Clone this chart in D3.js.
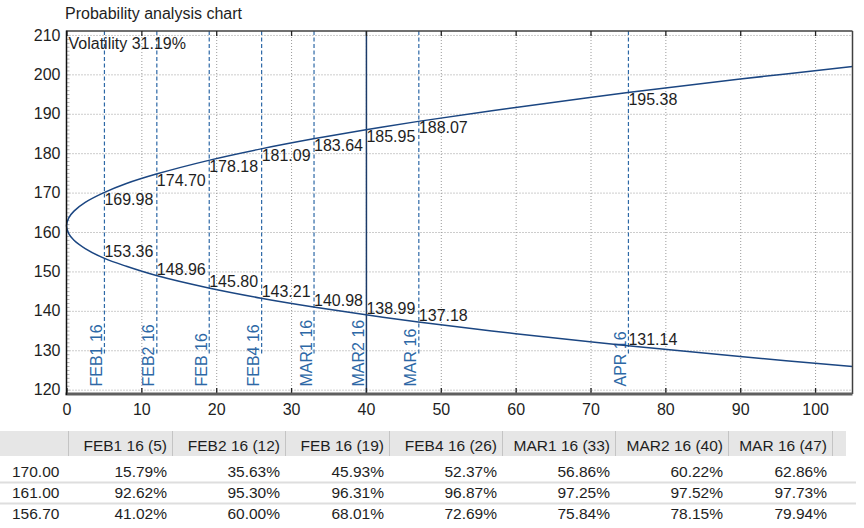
<!DOCTYPE html>
<html>
<head>
<meta charset="utf-8">
<script src="https://cdn.jsdelivr.net/npm/d3@7"></script>
<style>
  html, body { margin: 0; padding: 0; background: #fff; }
  svg { display: block; font-family: "Liberation Sans", Arial, Helvetica, sans-serif; }
</style>
</head>
<body>
<svg id="chart" width="864" height="528"></svg>
<script>
// Expiry series: name, days to expiry and price band at that expiry
const expiries   = ["FEB1 16", "FEB2 16", "FEB 16", "FEB4 16", "MAR1 16", "MAR2 16", "MAR 16", "APR 16"];
const expiryDays = [5, 12, 19, 26, 33, 40, 47, 75];
const upperBand  = [169.98, 174.70, 178.18, 181.09, 183.64, 185.95, 188.07, 195.38];
const lowerBand  = [153.36, 148.96, 145.80, 143.21, 140.98, 138.99, 137.18, 131.14];
const selectedExpiry = "MAR2 16";

// Probability cone sampled along the day axis
const coneDays  = [0, 0.3, 1, 2.5, 5, 8, 12, 19, 26, 33, 40, 47, 60, 75, 90, 105];
const coneUpper = [161.6, 163.6, 165.3, 167.5, 169.98, 172.3, 174.70, 178.18, 181.09, 183.64, 185.95, 188.07, 191.6, 195.38, 198.8, 202.0];
const coneLower = [161.6, 159.6, 157.9, 155.8, 153.36, 151.3, 148.96, 145.80, 143.21, 140.98, 138.99, 137.18, 134.2, 131.14, 128.4, 125.9];

const title = "Probability analysis chart";
const volatilityText = "Volatility 31.19%";

// Axis ticks
const xTicks = [0, 10, 20, 30, 40, 50, 60, 70, 80, 90, 100];
const yTicks = [120, 130, 140, 150, 160, 170, 180, 190, 200, 210];

// Probability table
const tableExpiries = ["FEB1 16", "FEB2 16", "FEB 16", "FEB4 16", "MAR1 16", "MAR2 16", "MAR 16"];
const tableDays     = [5, 12, 19, 26, 33, 40, 47];
const priceLevels   = ["170.00", "161.00", "156.70"];
const probRow170    = ["15.79%", "35.63%", "45.93%", "52.37%", "56.86%", "60.22%", "62.86%"];
const probRow161    = ["92.62%", "95.30%", "96.31%", "96.87%", "97.25%", "97.52%", "97.73%"];
const probRow1567   = ["41.02%", "60.00%", "68.01%", "72.69%", "75.84%", "78.15%", "79.94%"];

const svg = d3.select("#chart");
const frame = { left: 66.5, right: 852.5, top: 31, bottom: 394 };

const x = d3.scaleLinear().domain([0, 105]).range([frame.left, frame.right]);
const y = d3.scaleLinear().domain([118.9, 211]).range([frame.bottom, frame.top]);

const curveColor = "#1b4682";
const markColor = "#2d68a6";
const textColor = "#1e1e1e";

// Title
svg.append("text")
  .attr("x", 65).attr("y", 18.5)
  .attr("font-size", 16).attr("fill", textColor)
  .text(title);

const plot = svg.append("g");

// Dotted grid
plot.append("g").selectAll("line").data(yTicks).join("line")
  .attr("x1", frame.left).attr("x2", frame.right)
  .attr("y1", d => y(d) + 0.5).attr("y2", d => y(d) + 0.5)
  .attr("stroke", "#9a9a9a").attr("stroke-width", 1)
  .attr("stroke-dasharray", "1,2");
plot.append("g").selectAll("line").data(xTicks.filter(d => d > 0)).join("line")
  .attr("x1", d => x(d) + 0.5).attr("x2", d => x(d) + 0.5)
  .attr("y1", frame.top).attr("y2", frame.bottom)
  .attr("stroke", "#9a9a9a").attr("stroke-width", 1)
  .attr("stroke-dasharray", "1,2");

// Minor ticks along the price axis
plot.append("g").selectAll("line").data(d3.range(119, 211, 1)).join("line")
  .attr("x1", frame.left).attr("x2", frame.left + 3)
  .attr("y1", d => y(d) + 0.5).attr("y2", d => y(d) + 0.5)
  .attr("stroke", "#b0b0b0").attr("stroke-width", 1);

// Expiry markers: dashed lines, solid line for the selected expiry
const markers = expiries.map((name, i) => ({ name, day: expiryDays[i], up: upperBand[i], low: lowerBand[i] }));

plot.append("g").selectAll("line").data(markers.filter(d => d.name !== selectedExpiry)).join("line")
  .attr("x1", d => x(d.day) + 0.5).attr("x2", d => x(d.day) + 0.5)
  .attr("y1", frame.top).attr("y2", y(128.6))
  .attr("stroke", markColor).attr("stroke-width", 1.2)
  .attr("stroke-dasharray", "4,2.5");

plot.append("g").selectAll("line").data(markers.filter(d => d.name === selectedExpiry)).join("line")
  .attr("x1", d => x(d.day) + 0.5).attr("x2", d => x(d.day) + 0.5)
  .attr("y1", frame.top).attr("y2", frame.bottom)
  .attr("stroke", "#1b3a68").attr("stroke-width", 1.5);

// Rotated expiry names
plot.append("g").selectAll("text").data(markers).join("text")
  .attr("transform", d => `translate(${x(d.day) - 2},${386.5}) rotate(-90)`)
  .attr("font-size", 16).attr("fill", markColor)
  .text(d => d.name);

// Probability cone
const conePath = coneDays.slice().reverse().map((d, i) => [d, coneUpper[coneDays.length - 1 - i]])
  .concat(coneDays.slice(1).map((d, i) => [d, coneLower[i + 1]]));

plot.append("path")
  .datum(conePath)
  .attr("d", d3.line().x(d => x(d[0])).y(d => y(d[1])).curve(d3.curveCatmullRom.alpha(0.5)))
  .attr("fill", "none").attr("stroke", curveColor).attr("stroke-width", 1.5);

// Band values at each expiry
plot.append("g").selectAll("text").data(markers).join("text")
  .attr("x", d => x(d.day) + 0.5).attr("y", d => y(d.up) + 12)
  .attr("font-size", 16).attr("fill", textColor)
  .text(d => d.up.toFixed(2));
plot.append("g").selectAll("text").data(markers).join("text")
  .attr("x", d => x(d.day) + 0.5).attr("y", d => y(d.low) - 1)
  .attr("font-size", 16).attr("fill", textColor)
  .text(d => d.low.toFixed(2));

// Volatility note
plot.append("text")
  .attr("x", 68.5).attr("y", 48.5)
  .attr("font-size", 16).attr("fill", textColor)
  .text(volatilityText);

// Frame
plot.append("line").attr("x1", frame.left).attr("x2", frame.right).attr("y1", frame.top).attr("y2", frame.top)
  .attr("stroke", "#404040").attr("stroke-width", 1.5);
plot.append("line").attr("x1", frame.right).attr("x2", frame.right).attr("y1", frame.top).attr("y2", frame.bottom)
  .attr("stroke", "#404040").attr("stroke-width", 1.5);

// Tick marks at top and bottom
plot.append("g").selectAll("line").data(xTicks).join("line")
  .attr("x1", d => x(d) + 0.5).attr("x2", d => x(d) + 0.5)
  .attr("y1", frame.top).attr("y2", frame.top + 5)
  .attr("stroke", "#222").attr("stroke-width", 1.3);
plot.append("g").selectAll("line").data(xTicks).join("line")
  .attr("x1", d => x(d) + 0.5).attr("x2", d => x(d) + 0.5)
  .attr("y1", frame.bottom).attr("y2", frame.bottom - 6)
  .attr("stroke", "#222").attr("stroke-width", 1.3);

// Axes lines
plot.append("line").attr("x1", frame.left - 1).attr("x2", frame.right).attr("y1", frame.bottom).attr("y2", frame.bottom)
  .attr("stroke", "#5f5f5f").attr("stroke-width", 3);
plot.append("line").attr("x1", frame.left).attr("x2", frame.left).attr("y1", frame.top - 0.5).attr("y2", frame.bottom + 1)
  .attr("stroke", "#111").attr("stroke-width", 1.5);

// Tick labels
const xAxis = d3.axisBottom(x).tickValues(xTicks).tickSize(0).tickPadding(10).tickFormat(d3.format("d"));
svg.append("g").attr("transform", `translate(0,${frame.bottom})`).call(xAxis)
  .call(g => g.select(".domain").remove())
  .call(g => g.selectAll("text").attr("font-size", 16).attr("fill", textColor)
    .attr("font-family", "Liberation Sans, Arial, sans-serif"));

const yAxis = d3.axisLeft(y).tickValues(yTicks).tickSize(0).tickPadding(6).tickFormat(d3.format("d"));
svg.append("g").attr("transform", `translate(${frame.left},0)`).call(yAxis)
  .call(g => g.select(".domain").remove())
  .call(g => g.selectAll("text").attr("font-size", 16).attr("fill", textColor)
    .attr("font-family", "Liberation Sans, Arial, sans-serif"));

// Probability table
const colEdges = [0, 68, 172, 285, 389, 502, 615, 728, 832];
const headerTop = 431, headerBottom = 456;
const rowBaselines = [477, 497.5, 519];
const rowLines = [482.5, 503.5];
const rows = [probRow170, probRow161, probRow1567];

const table = svg.append("g").attr("font-size", 15.5).attr("fill", textColor);

table.append("rect")
  .attr("x", 0).attr("y", headerTop).attr("width", 846).attr("height", headerBottom - headerTop)
  .attr("fill", "#e6e6e6");
table.append("g").selectAll("line").data(colEdges.slice(1)).join("line")
  .attr("x1", d => d + 0.5).attr("x2", d => d + 0.5)
  .attr("y1", headerTop).attr("y2", headerBottom)
  .attr("stroke", "#c4c4c4").attr("stroke-width", 1);

table.append("g").selectAll("text").data(tableExpiries).join("text")
  .attr("x", (d, i) => colEdges[i + 2] - 5).attr("y", 451)
  .attr("text-anchor", "end")
  .text((d, i) => `${d} (${tableDays[i]})`);

table.append("g").selectAll("line").data(rowLines).join("line")
  .attr("x1", 0).attr("x2", 856)
  .attr("y1", d => d).attr("y2", d => d)
  .attr("stroke", "#dedede").attr("stroke-width", 2);

rows.forEach((row, r) => {
  table.append("text")
    .attr("x", 12).attr("y", rowBaselines[r])
    .text(priceLevels[r]);
  table.append("g").selectAll("text").data(row).join("text")
    .attr("x", (d, i) => colEdges[i + 2] - 5).attr("y", rowBaselines[r])
    .attr("text-anchor", "end")
    .text(d => d);
});
</script>
</body>
</html>
